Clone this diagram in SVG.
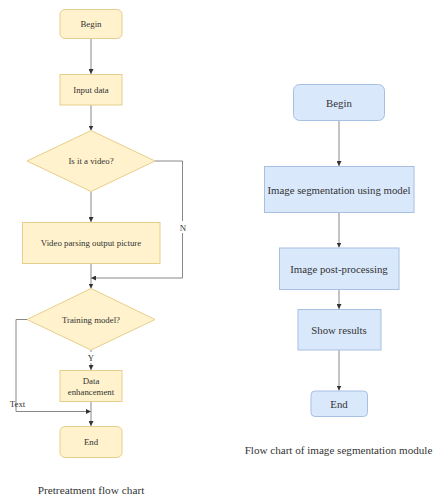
<svg xmlns="http://www.w3.org/2000/svg" width="435" height="498" viewBox="0 0 435 498">
<style>
.y{fill:#fff2cc;stroke:#e6cf8a;stroke-width:1}
.b{fill:#dae8fc;stroke:#a7c0e2;stroke-width:1}
.t{font-family:"Liberation Serif",serif;fill:#333;text-anchor:middle;dominant-baseline:central}
.s{font-size:8.8px}
.m{font-size:10.8px}
.c{fill:none;stroke:#888;stroke-width:1}
</style>
<defs>
<marker id="a" viewBox="0 0 6 6" refX="6" refY="3" markerWidth="5" markerHeight="5" orient="auto" markerUnits="userSpaceOnUse">
<path d="M0,0 L6,3 L0,6 Z" fill="#333"/>
</marker>
</defs>
<rect width="435" height="498" fill="#fff"/>
<g id="connectors">
<path class="c" d="M91,38.5 V74" marker-end="url(#a)"/>
<path class="c" d="M91,105 V130.5" marker-end="url(#a)"/>
<path class="c" d="M91,191.5 V222" marker-end="url(#a)"/>
<path class="c" d="M155,161 H182.5 V278 H91" marker-end="url(#a)"/>
<path class="c" d="M91,263.5 V288.5" marker-end="url(#a)"/>
<path class="c" d="M91,350 V370" marker-end="url(#a)"/>
<path class="c" d="M27,319.5 H16 V411.5 H91" marker-end="url(#a)"/>
<path class="c" d="M91,401.5 V426" marker-end="url(#a)"/>
<path class="c" d="M339,120.5 V166" marker-end="url(#a)"/>
<path class="c" d="M339,212.5 V247.5" marker-end="url(#a)"/>
<path class="c" d="M339,289.5 V309" marker-end="url(#a)"/>
<path class="c" d="M339,350 V390.5" marker-end="url(#a)"/>
<rect x="178" y="221" width="10" height="12" fill="#fff"/>
<text class="t s" x="183" y="227.5">N</text>
<rect x="86" y="352" width="10" height="11" fill="#fff"/>
<text class="t s" x="91" y="358">Y</text>
<text class="t s" x="17.5" y="404">Text</text>
</g>
<g id="l-begin"><rect class="y" x="60" y="9.5" width="62" height="29" rx="5"/><text class="t s" x="91" y="24">Begin</text></g>
<g id="l-input"><rect class="y" x="60" y="74.5" width="62" height="30.5"/><text class="t s" x="91" y="90">Input data</text></g>
<g id="l-video"><path class="y" d="M91,130.5 L155,161 L91,191.5 L27,161 Z"/><text class="t s" x="91" y="161">Is it a video?</text></g>
<g id="l-parse"><rect class="y" x="22.5" y="222.5" width="137.5" height="41"/><text class="t s" x="91" y="243">Video parsing output picture</text></g>
<g id="l-train"><path class="y" d="M91,288.5 L155,319.5 L91,350 L27,319.5 Z"/><text class="t s" x="91" y="319.5">Training model?</text></g>
<g id="l-enh"><rect class="y" x="60" y="370.5" width="62" height="31"/><text class="t s" x="91" y="381">Data</text><text class="t s" x="91" y="391.5">enhancement</text></g>
<g id="l-end"><rect class="y" x="60" y="426.5" width="62" height="31" rx="5"/><text class="t s" x="91" y="442">End</text></g>
<text class="t" font-size="11.3" x="91" y="490">Pretreatment flow chart</text>
<g id="r-begin"><rect class="b" x="293.5" y="84.5" width="91" height="36" rx="6"/><text class="t m" x="339" y="102.5">Begin</text></g>
<g id="r-seg"><rect class="b" x="264.5" y="166.5" width="149.5" height="46"/><text class="t m" x="339" y="189.5">Image segmentation using model</text></g>
<g id="r-post"><rect class="b" x="279.5" y="248" width="119.5" height="41.5"/><text class="t m" x="339" y="268.5">Image post-processing</text></g>
<g id="r-show"><rect class="b" x="298" y="309.5" width="83" height="40.5"/><text class="t m" x="339" y="330">Show results</text></g>
<g id="r-end"><rect class="b" x="311" y="391" width="56.5" height="25.5" rx="4"/><text class="t m" x="339" y="403.5">End</text></g>
<text class="t" font-size="11.1" x="338.5" y="450">Flow chart of image segmentation module</text>
</svg>
